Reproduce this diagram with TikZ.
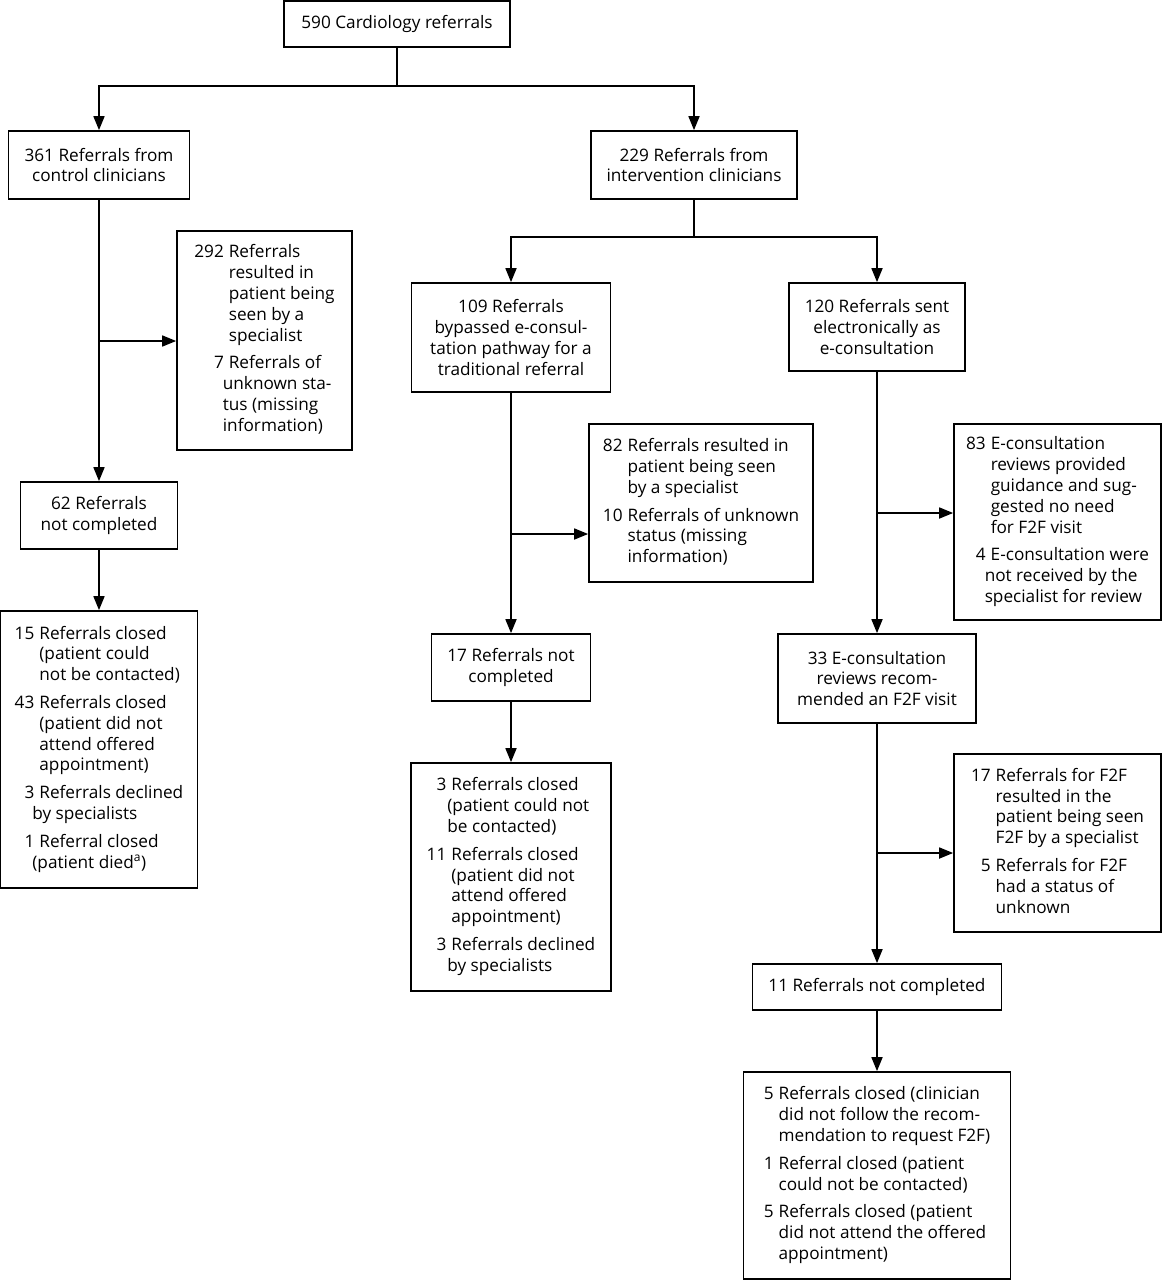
\documentclass[tikz,border=0pt]{standalone}
\usepackage{fontspec}
\setmainfont{Open Sans}
\usetikzlibrary{arrows.meta}
\newcommand\boxfont{\fontsize{17.2}{20.8}\selectfont}
\begin{document}
\begin{tikzpicture}[x=1pt,y=-1pt,
  box/.style={draw, line width=1.7pt, inner sep=0pt, align=center, font=\boxfont},
  conn/.style={line width=1.7pt},
  arr/.style={conn, -{Triangle[length=14pt,width=11pt]}}]
\useasboundingbox (0,0) rectangle (1162,1280);
\setlength{\tabcolsep}{0pt}
% boxes
\node[box, minimum width=226pt, minimum height=46pt] (top) at (397,24) {590 Cardiology referrals};
\node[box, minimum width=181pt, minimum height=68pt] (b361) at (99,165) {361 Referrals from\\control clinicians};
\node[box, minimum width=206pt, minimum height=68pt] (b229) at (694,165) {229 Referrals from\\intervention clinicians};
\node[box, minimum width=175pt, minimum height=219pt] (b292) at (264.5,340.5) {\begin{tabular}{@{}r@{\hspace{5pt}}l@{}}
292 & Referrals\\
 & resulted in\\
 & patient being\\
 & seen by a\\
 & specialist\\[7pt]
7 & Referrals of\\
 & \hspace*{-6pt}unknown sta-\\
 & \hspace*{-6pt}tus (missing\\
 & \hspace*{-6pt}information)
\end{tabular}};
\node[box, minimum width=157pt, minimum height=67pt] (b62) at (99,515.5) {62 Referrals\\not completed};
\node[box, minimum width=197pt, minimum height=277pt] (b15) at (99,749.5) {\begin{tabular}{@{}r@{\hspace{5pt}}l@{}}
15 & Referrals closed\\
 & (patient could\\
 & not be contacted)\\[7pt]
43 & Referrals closed\\
 & (patient did not\\
 & attend offered\\
 & appointment)\\[7pt]
3 & Referrals declined\\
 & \hspace*{-7pt}by specialists\\[7pt]
1 & Referral closed\\
 & \hspace*{-7pt}(patient died\textsuperscript{a})
\end{tabular}};
\node[box, minimum width=199pt, minimum height=109pt] (b109) at (511,337.5) {109 Referrals\\bypassed e-consul-\\tation pathway for a\\traditional referral};
\node[box, minimum width=176pt, minimum height=88pt] (b120) at (877,327) {120 Referrals sent\\electronically as\\e-consultation};
\node[box, minimum width=224pt, minimum height=158pt] (b82) at (701,503) {\begin{tabular}{@{}r@{\hspace{5pt}}l@{}}
82 & Referrals resulted in\\
 & patient being seen\\
 & by a specialist\\[7pt]
10 & Referrals of unknown\\
 & status (missing\\
 & information)
\end{tabular}};
\node[box, minimum width=159pt, minimum height=67pt] (b17) at (511,667.5) {17 Referrals not\\completed};
\node[box, minimum width=200pt, minimum height=228pt] (b3) at (511,877) {\begin{tabular}{@{}r@{\hspace{5pt}}l@{}}
3 & Referrals closed\\
 & \hspace*{-4pt}(patient could not\\
 & \hspace*{-4pt}be contacted)\\[7pt]
11 & Referrals closed\\
 & (patient did not\\
 & attend offered\\
 & appointment)\\[7pt]
3 & Referrals declined\\
 & \hspace*{-4pt}by specialists
\end{tabular}};
\node[box, minimum width=207pt, minimum height=196pt] (b83) at (1057.5,522) {\begin{tabular}{@{}r@{\hspace{5pt}}l@{}}
83 & E-consultation\\
 & reviews provided\\
 & guidance and sug-\\
 & gested no need\\
 & for F2F visit\\[7pt]
4 & E-consultation were\\
 & \hspace*{-6pt}not received by the\\
 & \hspace*{-6pt}specialist for review
\end{tabular}};
\node[box, minimum width=198pt, minimum height=89pt] (b33) at (877,678.5) {33 E-consultation\\reviews recom-\\mended an F2F visit};
\node[box, minimum width=207pt, minimum height=178pt] (bF) at (1057.5,843) {\begin{tabular}{@{}r@{\hspace{5pt}}l@{}}
17 & Referrals for F2F\\
 & resulted in the\\
 & patient being seen\\
 & F2F by a specialist\\[7pt]
5 & Referrals for F2F\\
 & had a status of\\
 & unknown
\end{tabular}};
\node[box, minimum width=249pt, minimum height=46pt] (b11) at (877,987) {11 Referrals not completed};
\node[box, minimum width=267pt, minimum height=207pt] (b5) at (877,1175.5) {\begin{tabular}{@{}r@{\hspace{5pt}}l@{}}
5 & Referrals closed (clinician\\
 & did not follow the recom-\\
 & mendation to request F2F)\\[7pt]
1 & Referral closed (patient\\
 & could not be contacted)\\[7pt]
5 & Referrals closed (patient\\
 & did not attend the offered\\
 & appointment)
\end{tabular}};
% junctions
\coordinate (j0) at (397,86);
\coordinate (j1) at (694,237);
\coordinate (j292) at (99,341);
\coordinate (j82) at (511,534);
\coordinate (j83) at (877,513);
\coordinate (jF) at (877,853);
% connectors
\draw[conn] (top.south) -- (j0);
\draw[arr] (j0) -| (b361.north);
\draw[arr] (j0) -| (b229.north);
\draw[arr] (b361.south) -- (b62.north);
\draw[arr] (j292) -- (j292 -| b292.west);
\draw[arr] (b62.south) -- (b15.north);
\draw[conn] (b229.south) -- (j1);
\draw[arr] (j1) -| (b109.north);
\draw[arr] (j1) -| (b120.north);
\draw[arr] (b109.south) -- (b17.north);
\draw[arr] (j82) -- (j82 -| b82.west);
\draw[arr] (b17.south) -- (b3.north);
\draw[arr] (b120.south) -- (b33.north);
\draw[arr] (j83) -- (j83 -| b83.west);
\draw[arr] (b33.south) -- (b11.north);
\draw[arr] (jF) -- (jF -| bF.west);
\draw[arr] (b11.south) -- (b5.north);
\end{tikzpicture}
\end{document}
